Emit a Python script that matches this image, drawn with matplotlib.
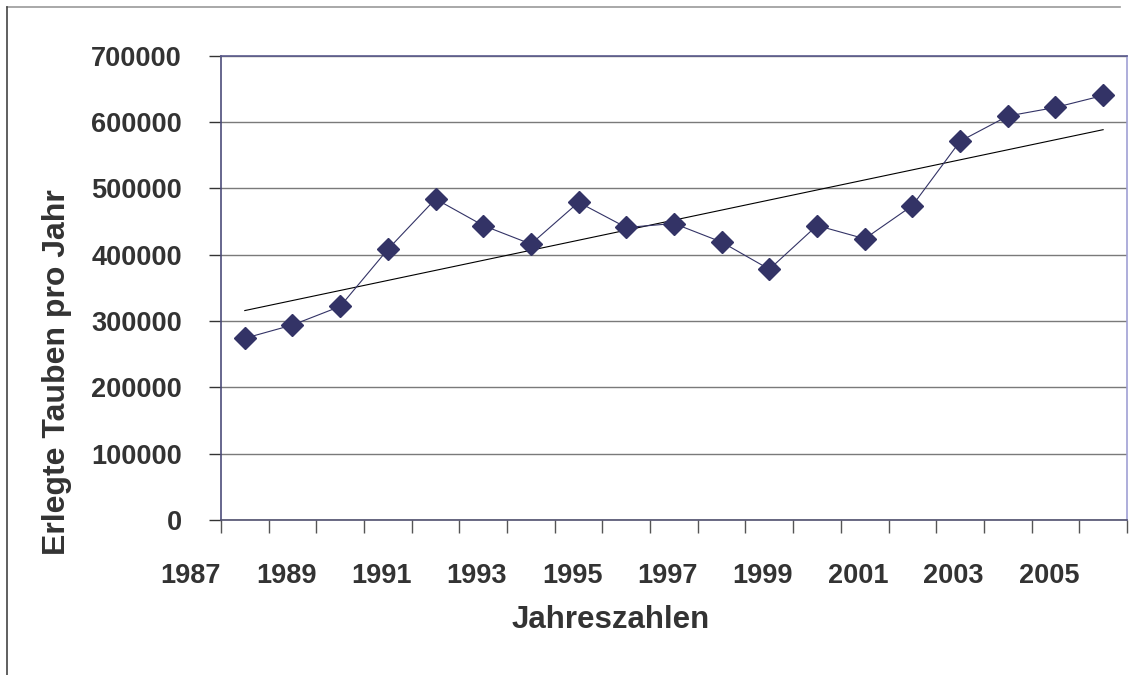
import numpy as np
import matplotlib
matplotlib.use('Agg')
import matplotlib.pyplot as plt
from matplotlib.lines import Line2D

# Erlegte Tauben pro Jahr
years = [1988, 1989, 1990, 1991, 1992, 1993, 1994, 1995, 1996, 1997,
         1998, 1999, 2000, 2001, 2002, 2003, 2004, 2005, 2006]
values = [274000, 294000, 322000, 408000, 484000, 444000, 416000, 479000, 441000, 447000,
          419000, 378000, 444000, 424000, 474000, 571000, 609000, 622000, 640000]
year_labels = ['1987', '1989', '1991', '1993', '1995', '1997', '1999', '2001', '2003', '2005']
y_ticks = [0, 100000, 200000, 300000, 400000, 500000, 600000, 700000]

plt.rcParams['font.family'] = ['Liberation Sans', 'DejaVu Sans']
txt = '#333333'
navy = '#333366'

fig = plt.figure(figsize=(11.29, 6.75), dpi=100)
ax = fig.add_axes([0.1957, 0.2296, 0.8025, 0.6879])

# linear trend line
coef = np.polyfit(years, values, 1)
ax.plot([years[0], years[-1]], np.polyval(coef, [years[0], years[-1]]),
        color='black', lw=0.8, zorder=2)
ax.plot(years, values, color=navy, lw=0.8, marker='D', markersize=11,
        markerfacecolor=navy, markeredgecolor=navy, zorder=3)

ax.set_xlim(1987.5, 2006.5)
ax.set_ylim(0, 700000)
ax.set_yticks(y_ticks)
ax.set_yticklabels([str(v) for v in y_ticks])
# Excel-style: labels sit right-aligned at the category boundaries
major_x = [int(y) + 0.5 for y in year_labels]
ax.set_xticks(major_x)
ax.set_xticklabels(year_labels, ha='right')
ax.set_xticks(np.arange(1987.5, 2007, 1.0), minor=True)

ax.grid(axis='y', color='#7a7a7a', lw=1)
ax.set_axisbelow(True)

ax.tick_params(axis='y', length=9, width=1, color='#333333', pad=19,
               labelsize=19.5, labelcolor=txt)
ax.tick_params(axis='x', which='both', direction='out', length=9, width=1,
               color='#555555', pad=22, labelsize=19.5, labelcolor=txt)
for lab in ax.get_xticklabels() + ax.get_yticklabels():
    lab.set_fontweight('bold')

ax.spines['left'].set_color('#4d4d7a')
ax.spines['top'].set_color('#5a5a8c')
ax.spines['bottom'].set_color('#50506e')
ax.spines['right'].set_color('#a0a0d4')
for s in ax.spines.values():
    s.set_linewidth(1.2)

ax.set_xlabel('Jahreszahlen', fontsize=22.5, fontweight='bold', color=txt,
              ha='center', va='baseline')
ax.xaxis.set_label_coords(611 / 1129, 1 - 628 / 675, transform=fig.transFigure)
ax.set_ylabel('Erlegte Tauben pro Jahr', fontsize=23, fontweight='bold', color=txt,
              ha='center', va='baseline', rotation_mode='anchor')
ax.yaxis.set_label_coords(65 / 1129, 1 - 372 / 675, transform=fig.transFigure)

# outer chart frame (partly cut off)
x0, y0 = 7 / 1129, 1 - 7 / 675
fig.add_artist(Line2D([x0, 1120 / 1129], [y0, y0], color='#999999', lw=1.2))
fig.add_artist(Line2D([x0, x0], [y0, 0], color='#444444', lw=1.2))

fig.savefig('out.png', dpi=100)
